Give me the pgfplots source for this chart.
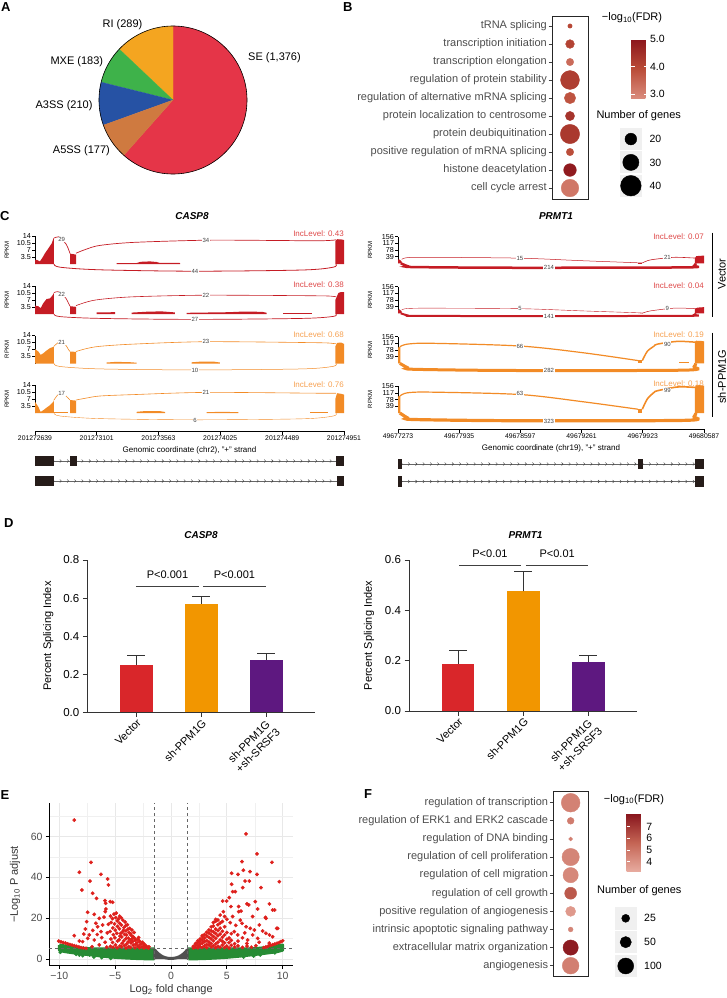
\documentclass[border=0pt]{standalone}
\usepackage{fontspec}
\setmainfont{Liberation Sans}
\usepackage{pgfplots}
\pgfplotsset{compat=1.18}
\usetikzlibrary{decorations.markings}

\newcommand{\fs}[1]{\fontsize{#1}{#1}\selectfont}

% pie
\definecolor{seRed}{RGB}{229,53,72}
\definecolor{riYel}{RGB}{244,165,32}
\definecolor{mxeGrn}{RGB}{62,178,74}
\definecolor{a3Blue}{RGB}{38,82,164}
\definecolor{a5Org}{RGB}{207,122,64}
% sashimi
\definecolor{vecRed}{RGB}{197,28,36}
\definecolor{shOrg}{RGB}{242,139,38}
\definecolor{incRed}{RGB}{222,72,72}
\definecolor{incOrg}{RGB}{246,160,80}
\definecolor{exonC}{RGB}{38,28,25}
% bars
\definecolor{barRed}{RGB}{217,38,42}
\definecolor{barOrg}{RGB}{242,150,0}
\definecolor{barPur}{RGB}{94,24,128}
% misc
\definecolor{txtGray}{RGB}{77,77,77}
\definecolor{volRed}{RGB}{222,32,28}
\definecolor{volGrn}{RGB}{38,139,52}
\definecolor{volGry}{RGB}{80,80,80}

\pgfplotsset{
  /pgf/number format/assume math mode=true,
  sash/.style={scale only axis, clip=false, axis x line=none, xtick=\empty, axis y line*=left,
    y axis line style={-, line width=0.9pt}, ymin=0,
    tick align=outside, major tick length=3pt, ytick style={line width=0.9pt, black},
    yticklabel style={font=\fs{7.2}, inner sep=0.3pt, xshift=-0.5pt},
    ylabel={RPKM},
    every axis y label/.style={at={(axis description cs:-0.091,0.5)}, rotate=90, anchor=center, font=\fs{6}}},
  casp/.style={sash, width=309pt, height=28pt, xmin=0, xmax=2312, ymax=14,
    ytick={3.5,7,10.5,14}, yticklabels={3.5,7,10.5,14}},
  prmt/.style={sash, width=306pt, height=26.7pt, xmin=0, xmax=3314, ymax=156,
    ytick={39,78,117,156}, yticklabels={39,78,117,156}},
  gcoord/.style={scale only axis, height=5pt, ymin=0, ymax=1,
    axis x line*=bottom, axis y line=none, ytick=\empty, x axis line style={-, line width=0.9pt},
    tick align=outside, major tick length=3.5pt, xtick style={line width=0.9pt, black},
    xticklabel style={font=\fs{6.8}, inner sep=1pt},
    every axis x label/.style={at={(axis description cs:0.5,0)}, anchor=center, yshift=-19pt, font=\fs{8}}},
  track/.style={scale only axis, hide axis, clip=false, y dir=reverse, ymin=0.5, ymax=2.5},
  intr/.style={black!60, line width=0.5pt, postaction={decorate},
    decoration={markings, mark=between positions 4pt and -4pt step 7.3pt with
      {\draw[black!75, line width=0.4pt] (-1.1pt,1.5pt) -- (0.4pt,0pt) -- (-1.1pt,-1.5pt);}}},
  exon/.style={fill=exonC, draw=none},
  dotax/.style={scale only axis, clip=false, xmin=0, xmax=2, y dir=reverse,
    xtick=\empty, ytick={1,...,10}, ytick pos=left,
    tick align=outside, major tick length=3.5pt, tick style={black!75, line width=0.7pt},
    axis line style={line width=0.8pt, black!85},
    yticklabel style={font=\fs{11}, text=txtGray, inner sep=1.5pt}},
  barax/.style={scale only axis, clip=false, axis lines=left,
    axis line style={-, line width=1pt, black!80}, tick style={line width=1pt, black!80},
    tick align=outside, major tick length=4.5pt,
    xmin=0.246, xmax=3.75, ymin=0, xtick={1,2,3},
    xticklabels={Vector, sh-PPM1G, {sh-PPM1G\\+sh-SRSF3}},
    xticklabel style={rotate=45, anchor=north east, align=center, font=\fontsize{11}{12.5}\selectfont, inner sep=1pt},
    yticklabel style={font=\fs{11.5}},
    ylabel={Percent Splicing Index}},
  errs/.style={error bars/.cd, y dir=plus, y explicit,
    error bar style={line width=1pt, black!80},
    error mark options={rotate=90, line width=1pt, black!80, mark size=9pt}},
}
\tikzset{
  cnt/.style={fill=white, inner sep=0.6pt, font=\fs{6}, text=black!75},
  inc/.style={anchor=east, inner sep=0pt, font=\fs{8}},
  lett/.style={anchor=base west, inner sep=0pt, font=\bfseries\fs{13}},
}

\begin{document}
\begin{tikzpicture}
\path[use as bounding box] (0,0) rectangle (727pt,-998pt);

% ---------------- A: pie ----------------
\node[lett] at (1pt,-11.7pt) {A};
\begin{axis}[at={(173pt,-100pt)}, anchor=center, scale only axis, width=148pt, height=148pt,
  xmin=-1, xmax=1, ymin=-1, ymax=1, hide axis, clip=false]
% counts: SE 1376, RI 289, MXE 183, A3SS 210, A5SS 177 (total 2235)
\addplot[fill=seRed, draw=seRed, line width=0.2pt, data cs=polar] coordinates {(0,0) (-131.64,1)
 (-128,1) (-124,1) (-120,1) (-116,1) (-112,1) (-108,1) (-104,1) (-100,1) (-96,1) (-92,1) (-88,1)
 (-84,1) (-80,1) (-76,1) (-72,1) (-68,1) (-64,1) (-60,1) (-56,1) (-52,1) (-48,1) (-44,1) (-40,1)
 (-36,1) (-32,1) (-28,1) (-24,1) (-20,1) (-16,1) (-12,1) (-8,1) (-4,1) (0,1) (4,1) (8,1) (12,1)
 (16,1) (20,1) (24,1) (28,1) (32,1) (36,1) (40,1) (44,1) (48,1) (52,1) (56,1) (60,1) (64,1) (68,1)
 (72,1) (76,1) (80,1) (84,1) (88,1) (90,1) (0,0)};
\addplot[fill=riYel, draw=riYel, line width=0.2pt, data cs=polar] coordinates {(0,0) (90,1) (94,1) (98,1)
 (102,1) (106,1) (110,1) (114,1) (118,1) (122,1) (126,1) (130,1) (134,1) (136.55,1) (0,0)};
\addplot[fill=mxeGrn, draw=mxeGrn, line width=0.2pt, data cs=polar] coordinates {(0,0) (136.55,1) (140,1)
 (144,1) (148,1) (152,1) (156,1) (160,1) (164,1) (166.03,1) (0,0)};
\addplot[fill=a3Blue, draw=a3Blue, line width=0.2pt, data cs=polar] coordinates {(0,0) (166.03,1) (170,1)
 (174,1) (178,1) (182,1) (186,1) (190,1) (194,1) (198,1) (199.86,1) (0,0)};
\addplot[fill=a5Org, draw=a5Org, line width=0.2pt, data cs=polar] coordinates {(0,0) (199.86,1) (204,1)
 (208,1) (212,1) (216,1) (220,1) (224,1) (228,1) (228.36,1) (0,0)};
\draw[line width=0.6pt] (axis cs:0,0) circle[radius=74pt];
\end{axis}
\node[anchor=west, inner sep=0pt, font=\fs{11}] at (248pt,-57.3pt) {SE (1,376)};
\node[inner sep=0pt, font=\fs{11}] at (122.5pt,-25pt) {RI (289)};
\node[anchor=east, inner sep=0pt, font=\fs{11}] at (103.3pt,-61.7pt) {MXE (183)};
\node[anchor=east, inner sep=0pt, font=\fs{11}] at (92.7pt,-106pt) {A3SS (210)};
\node[anchor=east, inner sep=0pt, font=\fs{11}] at (110pt,-150.7pt) {A5SS (177)};

% ---------------- B: GO dot plot ----------------
\node[lett] at (343pt,-11.7pt) {B};
\begin{axis}[dotax, at={(552pt,-16pt)}, anchor=north west, width=36pt, height=183pt,
  ymin=0.444, ymax=10.61,
  yticklabels={tRNA splicing, transcription initiation, transcription elongation,
    regulation of protein stability, regulation of alternative mRNA splicing,
    protein localization to centrosome, protein deubiquitination,
    positive regulation of mRNA splicing, histone deacetylation, cell cycle arrest},
  colormap={fdrB}{rgb255=(218,140,125) rgb255=(186,76,56) rgb255=(140,22,28)},
  point meta min=2.85, point meta max=5.0,
  colorbar, colorbar style={at={(parent axis.north east)}, anchor=north west,
    xshift=34.7pt, yshift=-23.3pt, scale only axis, width=16.6pt, height=59pt,
    ytick={3,4,5}, yticklabels={3.0,4.0,5.0}, ytick pos=both, yticklabel pos=right,
    tick align=inside, major tick length=3.5pt, ytick style={draw=white, line width=0.7pt},
    axis line style={draw=none}, yticklabel style={font=\fs{10.5}, inner sep=1pt, xshift=1pt}}]
\addplot[scatter, only marks, mark=*, point meta=explicit,
  scatter/use mapped color={draw=mapped color, fill=mapped color},
  visualization depends on={1.5+0.22*\thisrow{genes} \as \msz},
  scatter/@pre marker code/.append style={/tikz/mark size=\msz}]
  table[x=x, y=y, meta=fdr] {
x y genes fdr
1 1 3 4.0
1 2 13 4.1
1 3 10 3.4
1 4 36 4.2
1 5 19 3.8
1 6 14 4.4
1 7 37 4.3
1 8 10 3.9
1 9 22 4.9
1 10 33 3.2
};
\end{axis}
\node[font=\fs{11}] at (632pt,-18pt) {−log\textsubscript{10}(FDR)};
\node[font=\fs{11}] at (638.7pt,-115.3pt) {Number of genes};
\begin{axis}[at={(620pt,-127.4pt)}, anchor=north west, scale only axis, width=21.7pt, height=70pt,
  xmin=0, xmax=1, ymin=0.5, ymax=3.5, y dir=reverse, hide axis, clip=false]
\fill[black!6] (axis cs:0,0.53) rectangle (axis cs:1,1.47);
\fill[black!6] (axis cs:0,1.53) rectangle (axis cs:1,2.47);
\fill[black!6] (axis cs:0,2.53) rectangle (axis cs:1,3.47);
\addplot[scatter, only marks, mark=*,
  scatter/use mapped color={draw=black, fill=black},
  visualization depends on={1.5+0.22*\thisrow{genes} \as \msz},
  scatter/@pre marker code/.append style={/tikz/mark size=\msz}]
  table[x=x, y=y] {
x y genes
0.5 1 20
0.5 2 30
0.5 3 40
};
\node[anchor=west, font=\fs{10.5}, inner sep=0pt] at (axis cs:1.35,1) {20};
\node[anchor=west, font=\fs{10.5}, inner sep=0pt] at (axis cs:1.35,2) {30};
\node[anchor=west, font=\fs{10.5}, inner sep=0pt] at (axis cs:1.35,3) {40};
\end{axis}

% ---------------- C: sashimi plots ----------------
\node[lett] at (0pt,-220.7pt) {C};
\node[font=\bfseries\itshape\fs{10}] at (192pt,-216.5pt) {CASP8};
\node[font=\bfseries\itshape\fs{10}] at (556pt,-216.5pt) {PRMT1};

% CASP8 row 1 (Vector)
\begin{axis}[casp, at={(35pt,-264pt)}, anchor=south west]
\addplot[fill=vecRed, draw=none] coordinates {(0,0) (0,2.1) (17,2.0) (37,1.3) (57,3.3) (75,5.4) (100,7.8) (125,10.3) (137,12.7) (142,13.0) (142,0)};
\addplot[fill=vecRed, draw=none] coordinates {(262,0) (262,5.2) (307,4.7) (307,0)};
\addplot[fill=vecRed, draw=none] coordinates {(611,0) (611,0.5) (761,0.5) (790,1.1) (860,1.3) (910,1.0) (930,0.6) (1085,0.5) (1085,0)};
\addplot[fill=vecRed, draw=none] coordinates {(2247,0) (2247,11.5) (2262,12.4) (2290,12.3) (2312,12.0) (2312,0)};
\addplot[vecRed, line width=0.7pt, smooth] coordinates {(142,13) (175,13.6) (200,12.4) (232,10) (250,7.5) (262,5.2)};
\addplot[vecRed, line width=0.7pt, smooth] coordinates {(307,5.4) (387,7.5) (486,9.3) (736,10.8) (1279,11.9) (1733,11.8) (2107,11.6) (2232,11.9) (2252,12.2)};
\addplot[vecRed, line width=0.8pt, smooth] coordinates {(142,0) (187,-1.6) (486,-2.9) (1197,-3.6) (2000,-3.0) (2232,-1.6) (2252,0)};
\node[cnt] at (axis cs:200,12.2) {29};
\node[cnt] at (axis cs:1279,11.9) {34};
\node[cnt] at (axis cs:1197,-3.6) {44};
\node[inc, text=incRed] at (axis cs:2312,15.0) {IncLevel: 0.43};
\end{axis}

% CASP8 row 2 (Vector)
\begin{axis}[casp, at={(35pt,-314pt)}, anchor=south west]
\addplot[fill=vecRed, draw=none] coordinates {(0,0) (0,4.2) (25,3.9) (42,2.9) (62,5.4) (87,7.5) (112,7.8) (132,9.4) (142,10.7) (142,0)};
\addplot[fill=vecRed, draw=none] coordinates {(262,0) (262,3.9) (307,3.6) (307,0)};
\addplot[fill=vecRed, draw=none] coordinates {(461,0) (461,0.8) (599,0.9) (599,0)};
\addplot[fill=vecRed, draw=none] coordinates {(723,0) (723,0.7) (850,1.2) (950,1.3) (1047,0.8) (1047,0)};
\addplot[fill=vecRed, draw=none] coordinates {(1135,0) (1135,0.6) (1450,0.9) (1550,1.2) (1700,1.1) (1733,0.6) (1733,0)};
\addplot[fill=vecRed, draw=none] coordinates {(1858,0) (1858,0.3) (2070,0.3) (2070,0)};
\addplot[fill=vecRed, draw=none] coordinates {(2247,0) (2247,7) (2270,10.5) (2290,11) (2312,11) (2312,0)};
\addplot[vecRed, line width=0.6pt, smooth] coordinates {(142,10.7) (170,11.2) (200,10.2) (232,7.8) (250,5.5) (262,3.9)};
\addplot[vecRed, line width=0.6pt, smooth] coordinates {(307,4.2) (387,6.0) (486,7.3) (736,8.6) (1279,9.4) (2107,9.1) (2232,8.8) (2252,8.6)};
\addplot[vecRed, line width=0.7pt, smooth] coordinates {(142,0) (187,-1.3) (486,-2.2) (1197,-2.7) (2000,-2.2) (2232,-1.2) (2252,0)};
\node[cnt] at (axis cs:200,9.9) {22};
\node[cnt] at (axis cs:1279,9.4) {22};
\node[cnt] at (axis cs:1197,-2.8) {27};
\node[inc, text=incRed] at (axis cs:2312,14.6) {IncLevel: 0.38};
\end{axis}

% CASP8 row 3 (sh-PPM1G)
\begin{axis}[casp, at={(35pt,-363.5pt)}, anchor=south west]
\addplot[fill=shOrg, draw=none] coordinates {(0,0) (0,7.2) (25,6.0) (42,4.3) (62,5.1) (87,6.5) (112,7.7) (137,8.3) (142,8.6) (142,0)};
\addplot[fill=shOrg, draw=none] coordinates {(262,0) (262,6.0) (307,5.8) (307,0)};
\addplot[fill=shOrg, draw=none] coordinates {(536,0) (536,0.5) (600,0.8) (700,0.7) (761,0.4) (761,0)};
\addplot[fill=shOrg, draw=none] coordinates {(1172,0) (1172,0.6) (1250,1.0) (1330,1.0) (1384,0.5) (1384,0)};
\addplot[fill=shOrg, draw=none] coordinates {(2247,0) (2247,8.5) (2260,10.3) (2290,10.5) (2312,9.8) (2312,0)};
\addplot[shOrg, line width=0.6pt, smooth] coordinates {(142,8.6) (170,10.3) (200,10.6) (232,9) (250,7) (262,6)};
\addplot[shOrg, line width=0.6pt, smooth] coordinates {(307,6) (387,7.5) (486,8.6) (736,9.7) (1279,10.9) (2107,10.4) (2232,10) (2252,9.9)};
\addplot[shOrg, line width=0.5pt, smooth] coordinates {(142,0) (187,-1.5) (486,-2.7) (1197,-3.2) (2000,-2.7) (2232,-1.4) (2252,0)};
\node[cnt] at (axis cs:200,10.6) {21};
\node[cnt] at (axis cs:1279,10.9) {23};
\node[cnt] at (axis cs:1197,-3.4) {10};
\node[inc, text=incOrg] at (axis cs:2312,14.3) {IncLevel: 0.68};
\end{axis}

% CASP8 row 4 (sh-PPM1G)
\begin{axis}[casp, at={(35pt,-413pt)}, anchor=south west]
\addplot[fill=shOrg, draw=none] coordinates {(0,0) (0,5.6) (25,3.1) (42,0.5) (62,1.4) (87,2.7) (112,3.9) (137,5.6) (142,6.5) (142,0)};
\addplot[fill=shOrg, draw=none] coordinates {(142,0) (142,0.5) (250,0.5) (250,0)};
\addplot[fill=shOrg, draw=none] coordinates {(262,0) (262,6.5) (307,6.2) (307,0)};
\addplot[fill=shOrg, draw=none] coordinates {(761,0) (761,0.6) (830,1.0) (930,1.0) (973,0.5) (973,0)};
\addplot[fill=shOrg, draw=none] coordinates {(1284,0) (1284,0.4) (1400,0.6) (1521,0.4) (1521,0)};
\addplot[fill=shOrg, draw=none] coordinates {(2057,0) (2057,0.3) (2195,0.3) (2195,0)};
\addplot[fill=shOrg, draw=none] coordinates {(2247,0) (2247,7) (2260,9.9) (2290,9.6) (2312,9.2) (2312,0)};
\addplot[shOrg, line width=0.6pt, smooth] coordinates {(142,6.5) (170,9) (200,9.9) (232,8.5) (262,6.5)};
\addplot[shOrg, line width=0.6pt, smooth] coordinates {(307,6.5) (387,7.5) (486,8.5) (736,9.2) (1279,10.3) (2107,9.9) (2252,9.9)};
\addplot[shOrg, line width=0.4pt, smooth] coordinates {(142,0) (187,-1.5) (486,-2.8) (1197,-3.4) (2000,-2.9) (2232,-1.5) (2252,0)};
\node[cnt] at (axis cs:200,9.9) {17};
\node[cnt] at (axis cs:1279,10.3) {21};
\node[cnt] at (axis cs:1197,-3.6) {6};
\node[inc, text=incOrg] at (axis cs:2312,14.0) {IncLevel: 0.76};
\end{axis}

% CASP8 genomic axis and gene models
\begin{axis}[gcoord, at={(35pt,-431pt)}, anchor=south west, width=309pt, xmin=0, xmax=2312,
  xtick={0,462,924,1386,1850,2312},
  xticklabels={201272639,201273101,201273563,201274025,201274489,201274951},
  xlabel={Genomic coordinate (chr2), "+" strand}]
\end{axis}
\begin{axis}[track, at={(35pt,-451pt)}, anchor=north west, width=309pt, height=40pt, xmin=0, xmax=2312]
\addplot[intr] coordinates {(0,1) (2312,1)};
\addplot[intr] coordinates {(0,2) (2312,2)};
\addplot[exon] coordinates {(0,0.75) (142,0.75) (142,1.25) (0,1.25)};
\addplot[exon] coordinates {(262,0.75) (312,0.75) (312,1.25) (262,1.25)};
\addplot[exon] coordinates {(2252,0.75) (2312,0.75) (2312,1.25) (2252,1.25)};
\addplot[exon] coordinates {(0,1.77) (142,1.77) (142,2.23) (0,2.23)};
\addplot[exon] coordinates {(2257,1.75) (2312,1.75) (2312,2.25) (2257,2.25)};
\end{axis}

% PRMT1 row 1 (Vector)
\begin{axis}[prmt, at={(398pt,-263.3pt)}, anchor=south west]
\addplot[fill=vecRed, draw=none] coordinates {(0,0) (0,20) (10,23) (25,18) (40,10) (40,0)};
\addplot[fill=vecRed, draw=none] coordinates {(2599,0) (2599,3) (2646,3) (2646,0)};
\addplot[fill=vecRed, draw=none] coordinates {(3216,0) (3216,30) (3230,42) (3314,45) (3314,0)};
\addplot[vecRed, line width=0.5pt, smooth] coordinates {(40,23) (101,33) (354,35) (1321,30) (2000,15) (2599,3) (2621,2)};
\addplot[vecRed, line width=0.6pt, smooth] coordinates {(2646,2) (2700,15) (2772,23) (2989,35) (3206,31) (3224,30)};
\addplot[vecRed, line width=2.5pt, smooth] coordinates {(30,0) (101,-16) (173,-22) (1256,-26) (3100,-24) (3206,-15) (3224,0)};
\node[cnt] at (axis cs:1321,29) {15};
\node[cnt] at (axis cs:2917,33) {21};
\node[cnt] at (axis cs:1635,-26) {214};
\node[inc, text=incRed] at (axis cs:3314,157) {IncLevel: 0.07};
\end{axis}

% PRMT1 row 2 (Vector)
\begin{axis}[prmt, at={(398pt,-313.3pt)}, anchor=south west]
\addplot[fill=vecRed, draw=none] coordinates {(0,0) (0,18) (15,23) (40,12) (40,0)};
\addplot[fill=vecRed, draw=none] coordinates {(3216,0) (3216,25) (3240,33) (3314,36) (3314,0)};
\addplot[vecRed, line width=0.4pt, smooth] coordinates {(40,20) (101,28) (354,30) (1321,27) (2000,14) (2599,3) (2621,1)};
\addplot[vecRed, line width=0.5pt, smooth] coordinates {(2646,1) (2700,10) (2772,17) (2989,30) (3206,28) (3224,27)};
\addplot[vecRed, line width=2pt, smooth] coordinates {(30,0) (101,-12) (173,-15) (1256,-16) (3100,-15) (3206,-9) (3224,0)};
\node[cnt] at (axis cs:1321,27) {5};
\node[cnt] at (axis cs:2917,27) {9};
\node[cnt] at (axis cs:1635,-16) {141};
\node[inc, text=incRed] at (axis cs:3314,160) {IncLevel: 0.04};
\end{axis}

% PRMT1 row 3 (sh-PPM1G)
\begin{axis}[prmt, at={(398pt,-363.3pt)}, anchor=south west]
\addplot[fill=shOrg, draw=none] coordinates {(0,0) (0,90) (10,97) (25,95) (25,0)};
\addplot[fill=shOrg, draw=none] coordinates {(2599,0) (2599,18) (2646,18) (2646,0)};
\addplot[fill=shOrg, draw=none] coordinates {(3043,0) (3043,5) (3151,5) (3151,0)};
\addplot[fill=shOrg, draw=none] coordinates {(3216,0) (3216,125) (3230,132) (3300,130) (3314,128) (3314,0)};
\addplot[shOrg, line width=1.2pt, smooth] coordinates {(22,97) (101,112) (354,117) (1321,101) (2000,62) (2599,16)};
\addplot[shOrg, line width=1.5pt, smooth] coordinates {(2646,16) (2700,70) (2772,100) (2809,112) (3025,128) (3206,124) (3224,122)};
\addplot[shOrg, line width=3pt, smooth] coordinates {(20,0) (101,-25) (173,-35) (1256,-42) (3100,-40) (3206,-20) (3224,0)};
\node[cnt] at (axis cs:1321,101) {66};
\node[cnt] at (axis cs:2917,113) {90};
\node[cnt] at (axis cs:1635,-43) {282};
\node[inc, text=incOrg] at (axis cs:3314,165) {IncLevel: 0.19};
\end{axis}

% PRMT1 row 4 (sh-PPM1G)
\begin{axis}[prmt, at={(398pt,-413pt)}, anchor=south west]
\addplot[fill=shOrg, draw=none] coordinates {(0,0) (0,95) (10,100) (25,98) (25,0)};
\addplot[fill=shOrg, draw=none] coordinates {(2599,0) (2599,25) (2646,25) (2646,0)};
\addplot[fill=shOrg, draw=none] coordinates {(3216,0) (3216,150) (3230,165) (3314,160) (3314,0)};
\addplot[shOrg, line width=1.2pt, smooth] coordinates {(22,100) (101,118) (354,122) (1321,108) (2000,66) (2599,22)};
\addplot[shOrg, line width=1.6pt, smooth] coordinates {(2646,22) (2700,82) (2772,120) (2809,130) (3025,152) (3206,150) (3224,148)};
\addplot[shOrg, line width=3.2pt, smooth] coordinates {(20,0) (101,-28) (173,-38) (1256,-45) (3100,-43) (3206,-22) (3224,0)};
\node[cnt] at (axis cs:1321,113) {63};
\node[cnt] at (axis cs:2917,132) {99};
\node[cnt] at (axis cs:1635,-47) {323};
\node[inc, text=incOrg] at (axis cs:3314,169) {IncLevel: 0.18};
\end{axis}

% PRMT1 genomic axis and gene models
\begin{axis}[gcoord, at={(398pt,-429pt)}, anchor=south west, width=306pt, xmin=0, xmax=3314,
  xtick={0,662,1324,1988,2650,3314},
  xticklabels={49677273,49677935,49678597,49679261,49679923,49680587},
  xlabel={Genomic coordinate (chr19), "+" strand}]
\end{axis}
\begin{axis}[track, at={(398pt,-455.25pt)}, anchor=north west, width=306pt, height=35pt, xmin=0, xmax=3314]
\addplot[intr] coordinates {(0,1) (3314,1)};
\addplot[intr] coordinates {(0,2) (3314,2)};
\addplot[exon] coordinates {(0,0.71) (40,0.71) (40,1.29) (0,1.29)};
\addplot[exon] coordinates {(2599,0.71) (2650,0.71) (2650,1.29) (2599,1.29)};
\addplot[exon] coordinates {(3216,0.71) (3314,0.71) (3314,1.29) (3216,1.29)};
\addplot[exon] coordinates {(0,1.71) (40,1.71) (40,2.29) (0,2.29)};
\addplot[exon] coordinates {(3216,1.71) (3314,1.71) (3314,2.29) (3216,2.29)};
\end{axis}

\draw[line width=1pt] (712pt,-232.7pt) -- (712pt,-316.7pt);
\draw[line width=1pt] (712pt,-332.7pt) -- (712pt,-416.7pt);
\node[rotate=90, font=\fs{11}] at (722pt,-274pt) {Vector};
\node[rotate=90, font=\fs{11}] at (722pt,-376.7pt) {sh-PPM1G};

% ---------------- D: bar charts ----------------
\node[lett] at (4pt,-527pt) {D};
\node[font=\bfseries\itshape\fs{10}] at (201pt,-535pt) {CASP8};
\node[font=\bfseries\itshape\fs{10}] at (525.5pt,-535pt) {PRMT1};

\begin{axis}[barax, at={(87.3pt,-712.3pt)}, anchor=south west, width=227.7pt, height=152.3pt,
  ymax=0.8, ytick={0,0.2,0.4,0.6,0.8}, yticklabels={0.0,0.2,0.4,0.6,0.8},
  every axis y label/.style={at={(axis description cs:-0.171,0.5)}, rotate=90, anchor=center, font=\fs{11}}]
\addplot[ybar, bar width=32.5pt, bar shift=0pt, fill=barRed, draw=none, errs] coordinates {(1,0.248) +- (0,0.048)};
\addplot[ybar, bar width=32.5pt, bar shift=0pt, fill=barOrg, draw=none, errs] coordinates {(2,0.571) +- (0,0.038)};
\addplot[ybar, bar width=32.5pt, bar shift=0pt, fill=barPur, draw=none, errs] coordinates {(3,0.277) +- (0,0.032)};
\draw[line width=1pt, black!75] (axis cs:0.995,0.66) -- (axis cs:1.964,0.66);
\draw[line width=1pt, black!75] (axis cs:2.026,0.66) -- (axis cs:2.99,0.66);
\node[font=\fs{11}] at (axis cs:1.48,0.722) {P<0.001};
\node[font=\fs{11}] at (axis cs:2.51,0.722) {P<0.001};
\end{axis}

\begin{axis}[barax, at={(409pt,-711pt)}, anchor=south west, width=228.3pt, height=151pt,
  ymax=0.6, ytick={0,0.2,0.4,0.6}, yticklabels={0.0,0.2,0.4,0.6},
  every axis y label/.style={at={(axis description cs:-0.175,0.5)}, rotate=90, anchor=center, font=\fs{11}}]
\addplot[ybar, bar width=32.5pt, bar shift=0pt, fill=barRed, draw=none, errs] coordinates {(1,0.186) +- (0,0.053)};
\addplot[ybar, bar width=32.5pt, bar shift=0pt, fill=barOrg, draw=none, errs] coordinates {(2,0.475) +- (0,0.079)};
\addplot[ybar, bar width=32.5pt, bar shift=0pt, fill=barPur, draw=none, errs] coordinates {(3,0.195) +- (0,0.027)};
\draw[line width=1pt, black!75] (axis cs:1.015,0.578) -- (axis cs:1.964,0.578);
\draw[line width=1pt, black!75] (axis cs:2.041,0.578) -- (axis cs:3.0,0.578);
\node[font=\fs{11}] at (axis cs:1.489,0.626) {P<0.01};
\node[font=\fs{11}] at (axis cs:2.52,0.626) {P<0.01};
\end{axis}

% ---------------- E: volcano ----------------
\node[lett] at (0.5pt,-799pt) {E};
\begin{axis}[at={(49pt,-965.7pt)}, anchor=south west, scale only axis, width=244.3pt, height=162.4pt,
  xmin=-10.92, xmax=10.95, ymin=-3.3, ymax=76.3,
  axis lines=left, axis line style={-, line width=0.8pt, black},
  xtick={-10,-5,0,5,10}, xticklabels={−10,−5,0,5,10},
  ytick={0,20,40,60}, yticklabels={0,20,40,60},
  minor xtick={-7.5,-2.5,2.5,7.5}, minor ytick={10,30,50,70},
  grid=both, major grid style={draw=black!9, line width=0.7pt}, minor grid style={draw=black!6, line width=0.4pt},
  tick align=outside, major tick length=3pt, minor tick length=0pt, tick style={black, line width=0.8pt},
  ticklabel style={font=\fs{10.5}, text=txtGray},
  xlabel={Log\textsubscript{2} fold change}, ylabel={−Log\textsubscript{10} P adjust},
  every axis x label/.style={at={(axis description cs:0.5,0)}, anchor=center, yshift=-24pt, font=\fs{11}, text=black!80},
  every axis y label/.style={at={(axis description cs:-0.139,0.5)}, rotate=90, anchor=center, font=\fs{11}, text=black!80}]
% dense non-significant bands
\addplot[fill=volGrn, draw=volGrn, line width=3pt, line join=round] coordinates {(-10.0,6.8) (-10.0,4.3) (-9.5,3.6) (-9,3.2) (-8,2.5) (-7,1.9) (-6,1.3) (-5,0.8) (-4,0.45) (-3,0.2) (-2,0.05) (-1.55,0.0) (-1.55,5.0) (-7,5.0) (-8,5.3) (-9,6.0) (-10.0,6.8)};
\addplot[fill=volGrn, draw=volGrn, line width=3pt, line join=round] coordinates {(1.55,0.0) (2,0.05) (3,0.2) (4,0.45) (5,0.8) (6,1.3) (7,1.9) (8,2.5) (9,3.2) (9.5,3.6) (10.0,4.3) (10.0,6.8) (9,6.0) (8,5.3) (7,5.0) (1.55,5.0) (1.55,0.0)};
\addplot[fill=volGry, draw=volGry, line width=3pt, line join=round] coordinates {(-1.45,-0.1) (-1.45,4.4) (-1.3,3.4) (-1.1,2.4) (-0.9,1.6) (-0.7,1.0) (-0.5,0.6) (-0.25,0.35) (0,0.3) (0.25,0.35) (0.5,0.6) (0.7,1.0) (0.9,1.6) (1.1,2.4) (1.3,3.4) (1.45,4.4) (1.45,-0.1)};
\addplot[only marks, mark=*, mark size=1.7pt, volGrn] coordinates {(-9.9,3.3) (-8.5,2.3) (-8.2,1.9) (-7.9,1.6) (-7.3,2.0) (-6.9,1.0) (-6.2,0.7) (-5.4,0.3) (6.5,1.0) (8.0,2.0) (9.3,3.0) (7.4,1.5)};
% significant genes
\addplot[only marks, mark=*, mark size=1.7pt, volRed] coordinates {
(-8.66,68.1) (-8.2,42.5) (-7.97,33.8) (-7.16,47.4) (-7.25,38.2) (-7.01,32.2) (-6.66,29.7) (-6.27,41.5)
(-5.67,39.2) (-5.6,36.3) (-5.91,28.6) (-5.85,27.3) (-5.43,28.1) (-5.22,27.8) (-7.46,22.9) (-6.87,21.9)
(-5.82,24.5) (-5.88,23.2) (-8.66,11.4) (-7.67,14.7) (-7.55,18.3) (-6.72,17.5) (-6.42,19.9) (-7.31,11.8)
(-6.87,9.3) (-6.27,13.4) (-6.57,15.8) (-6.12,16.7) (-7.91,8.5) (-7.07,6.0) (-6.42,6.9) (-7.46,10.1)
(-8.2,8.8) (-6.0,20.5) (-6.2,10.5) (-5.9,8.2) (-5.7,12.8) (-5.6,17.0) (-5.75,5.8) (-6.6,12.0) (-7.0,14.0) (-7.8,12.2)
(-10.05,8.8) (-9.85,8.4) (-9.65,8.1) (-9.45,7.8) (-9.25,7.4) (-9.05,7.1) (-8.85,6.8) (-8.65,6.5)
(-8.45,6.2) (-8.25,5.9) (-8.05,5.6) (-7.85,5.4) (-7.6,5.2)
(-5.42,6.2) (-5.38,9.8) (-5.45,13.5) (-5.36,17.9) (-5.41,21.0)
(-5.18,5.8) (-5.23,8.1) (-5.16,11.9) (-5.21,15.2) (-5.24,19.8)
(-4.97,6.9) (-5.03,10.4) (-4.99,14.1) (-5.05,17.2) (-4.95,20.3)
(-4.82,5.5) (-4.77,8.8) (-4.84,12.6) (-4.79,16.0) (-4.81,18.7)
(-4.58,6.4) (-4.63,9.5) (-4.56,11.2) (-4.62,14.8) (-4.6,17.5)
(-4.43,5.9) (-4.37,7.7) (-4.41,10.8) (-4.35,13.3) (-4.44,16.6)
(-4.18,6.6) (-4.23,8.9) (-4.16,12.1) (-4.21,15.4) (-4.25,14.0)
(-4.02,5.4) (-3.97,7.3) (-4.04,9.9) (-3.99,11.7) (-4.03,13.8)
(-3.78,6.1) (-3.83,8.4) (-3.81,10.2) (-3.76,12.9)
(-3.62,5.7) (-3.58,7.9) (-3.63,9.3) (-3.57,11.6) (-3.61,12.4)
(-3.38,6.8) (-3.43,8.6) (-3.37,10.5) (-3.41,11.0)
(-3.22,5.5) (-3.17,7.2) (-3.19,9.1) (-3.24,10.1)
(-2.98,6.3) (-3.03,8.0) (-2.97,9.6) (-2.82,5.6) (-2.77,7.0) (-2.81,8.7)
(-2.58,6.0) (-2.63,7.6) (-2.57,8.2) (-2.42,5.4) (-2.37,6.7) (-2.41,7.4)
(-2.18,5.8) (-2.23,6.4) (-2.02,5.3) (-1.97,6.0)
(-4.9,22.5) (-4.6,21.0) (-4.45,20.2) (-4.3,19.0) (-4.1,18.1) (-3.9,16.8) (-3.7,15.0) (-3.5,14.2) (-3.3,13.0)
(-5.1,22.0) (-4.7,19.5) (-4.05,16.3) (-3.85,14.6) (-4.5,12.5) (-3.5,9.8) (-2.9,10.5)
(6.72,61.3) (7.7,51.5) (9.04,47.4) (6.36,47.7) (6.48,43.5) (7.07,42.8) (7.7,41.5) (5.43,42.0)
(6.0,41.5) (6.63,38.2) (7.01,38.2) (9.7,37.9) (8.06,35.0) (6.42,35.0) (5.43,36.6) (5.76,33.0)
(5.52,33.0) (5.22,30.1) (4.63,28.4) (4.99,28.4) (7.55,28.1) (8.81,27.0) (9.1,24.0) (9.28,24.0)
(7.76,24.5) (6.06,25.7) (6.27,23.5) (6.06,23.2) (5.52,20.8) (4.69,23.2) (5.37,25.7) (6.81,27.0)
(6.96,26.5) (7.31,20.8) (8.45,20.4) (8.5,19.9) (9.46,15.0) (9.55,15.0) (6.36,17.5) (6.72,15.8)
(7.1,15.0) (7.46,14.2) (7.91,16.7) (8.2,13.7) (8.5,12.6) (8.81,11.8) (9.1,10.9) (5.67,13.4)
(5.97,11.8) (7.31,11.8) (6.87,9.3) (7.76,10.1) (6.2,19.0) (5.8,16.5) (6.6,12.8) (7.9,8.2)
(8.8,7.8) (5.3,17.8) (5.0,19.5) (4.8,20.8) (4.4,21.5)
(8.3,5.6) (8.5,5.9) (8.7,6.3) (8.9,6.6) (9.1,7.0) (9.3,7.3) (9.5,7.7) (9.7,8.1) (9.85,8.5) (10.0,8.9)
(2.0,5.4) (2.0,6.2) (2.2,5.8) (2.2,6.9) (2.2,7.6) (2.4,5.5) (2.4,6.6) (2.4,8.0) (2.4,8.9)
(2.6,6.1) (2.6,7.3) (2.6,8.7) (2.6,9.8) (2.8,5.7) (2.8,7.8) (2.8,9.4) (2.8,10.9) (2.8,11.5)
(3.0,6.4) (3.0,8.5) (3.0,10.2) (3.0,12.0) (3.2,5.6) (3.2,7.1) (3.2,9.0) (3.2,11.3) (3.2,13.1)
(3.4,6.8) (3.4,8.3) (3.4,10.6) (3.4,12.7) (3.4,14.2)
(3.6,5.9) (3.6,7.6) (3.6,9.8) (3.6,11.9) (3.6,13.8) (3.6,15.7)
(3.8,6.5) (3.8,8.9) (3.8,11.0) (3.8,13.3) (3.8,16.2) (3.8,17.9)
(4.0,5.5) (4.0,7.4) (4.0,10.1) (4.0,12.5) (4.0,14.7) (4.0,18.5) (4.0,19.4)
(4.2,6.2) (4.2,8.2) (4.2,11.4) (4.2,13.9) (4.2,16.8) (4.2,19.1)
(4.4,5.8) (4.4,9.3) (4.4,12.2) (4.4,15.1) (4.4,17.6)
(4.6,6.9) (4.6,8.7) (4.6,10.7) (4.6,13.6) (4.6,18.4)
(4.8,5.6) (4.8,7.9) (4.8,11.8) (4.8,15.8) (5.0,6.3) (5.0,9.6) (5.0,13.0)
(5.2,5.4) (5.2,8.0) (5.2,10.3) (5.4,6.7) (5.4,9.1) (5.4,12.4)
(5.7,5.9) (5.7,7.5) (6.0,6.4) (6.0,8.8) (6.4,5.7) (6.4,10.4) (6.8,6.3) (6.8,7.6) (7.2,5.8) (7.6,6.5)
};
\addplot[dashed, black!60, line width=0.6pt] coordinates {(-1.5,-3.3) (-1.5,76.3)};
\addplot[dashed, black!60, line width=0.6pt] coordinates {(1.5,-3.3) (1.5,76.3)};
\addplot[dashed, black!60, line width=0.6pt] coordinates {(-10.92,5) (10.95,5)};
\end{axis}

% ---------------- F: GO dot plot ----------------
\node[lett] at (364pt,-798.3pt) {F};
\begin{axis}[dotax, at={(553.3pt,-791.7pt)}, anchor=north west, width=34.7pt, height=184.3pt,
  ymin=0.393, ymax=10.57,
  yticklabels={regulation of transcription, regulation of ERK1 and ERK2 cascade,
    regulation of DNA binding, regulation of cell proliferation, regulation of cell migration,
    regulation of cell growth, positive regulation of angiogenesis,
    intrinsic apoptotic signaling pathway, extracellular matrix organization, angiogenesis},
  colormap={fdrF}{rgb255=(232,172,160) rgb255=(196,100,84) rgb255=(135,20,28)},
  point meta min=3.14, point meta max=8.15,
  colorbar, colorbar style={at={(parent axis.north east)}, anchor=north west,
    xshift=30pt, yshift=-21.6pt, scale only axis, width=17.7pt, height=58.4pt,
    ytick={4,5,6,7}, yticklabels={4,5,6,7}, ytick pos=both, yticklabel pos=right,
    tick align=inside, major tick length=3.5pt, ytick style={draw=white, line width=0.7pt},
    axis line style={draw=none}, yticklabel style={font=\fs{10.5}, inner sep=1pt, xshift=1pt}}]
\addplot[scatter, only marks, mark=*, point meta=explicit,
  scatter/use mapped color={draw=mapped color, fill=mapped color},
  visualization depends on={0.8*sqrt(\thisrow{genes}) \as \msz},
  scatter/@pre marker code/.append style={/tikz/mark size=\msz}]
  table[x=x, y=y, meta=fdr] {
x y genes fdr
1 1 137 4.6
1 2 18 4.8
1 3 6 4.7
1 4 117 4.5
1 5 91 4.4
1 6 56 6.0
1 7 39 3.8
1 8 9 4.5
1 9 91 7.9
1 10 109 4.7
};
\end{axis}
\node[font=\fs{11}] at (634pt,-799.3pt) {−log\textsubscript{10}(FDR)};
\node[font=\fs{11}] at (639.3pt,-891pt) {Number of genes};
\begin{axis}[at={(614.7pt,-906.4pt)}, anchor=north west, scale only axis, width=22pt, height=71.5pt,
  xmin=0, xmax=1, ymin=0.5, ymax=3.5, y dir=reverse, hide axis, clip=false]
\fill[black!6] (axis cs:0,0.53) rectangle (axis cs:1,1.47);
\fill[black!6] (axis cs:0,1.53) rectangle (axis cs:1,2.47);
\fill[black!6] (axis cs:0,2.53) rectangle (axis cs:1,3.47);
\addplot[scatter, only marks, mark=*,
  scatter/use mapped color={draw=black, fill=black},
  visualization depends on={0.8*sqrt(\thisrow{genes}) \as \msz},
  scatter/@pre marker code/.append style={/tikz/mark size=\msz}]
  table[x=x, y=y] {
x y genes
0.5 1 25
0.5 2 50
0.5 3 100
};
\node[anchor=west, font=\fs{10.5}, inner sep=0pt] at (axis cs:1.33,1) {25};
\node[anchor=west, font=\fs{10.5}, inner sep=0pt] at (axis cs:1.33,2) {50};
\node[anchor=west, font=\fs{10.5}, inner sep=0pt] at (axis cs:1.33,3) {100};
\end{axis}

\end{tikzpicture}
\end{document}
